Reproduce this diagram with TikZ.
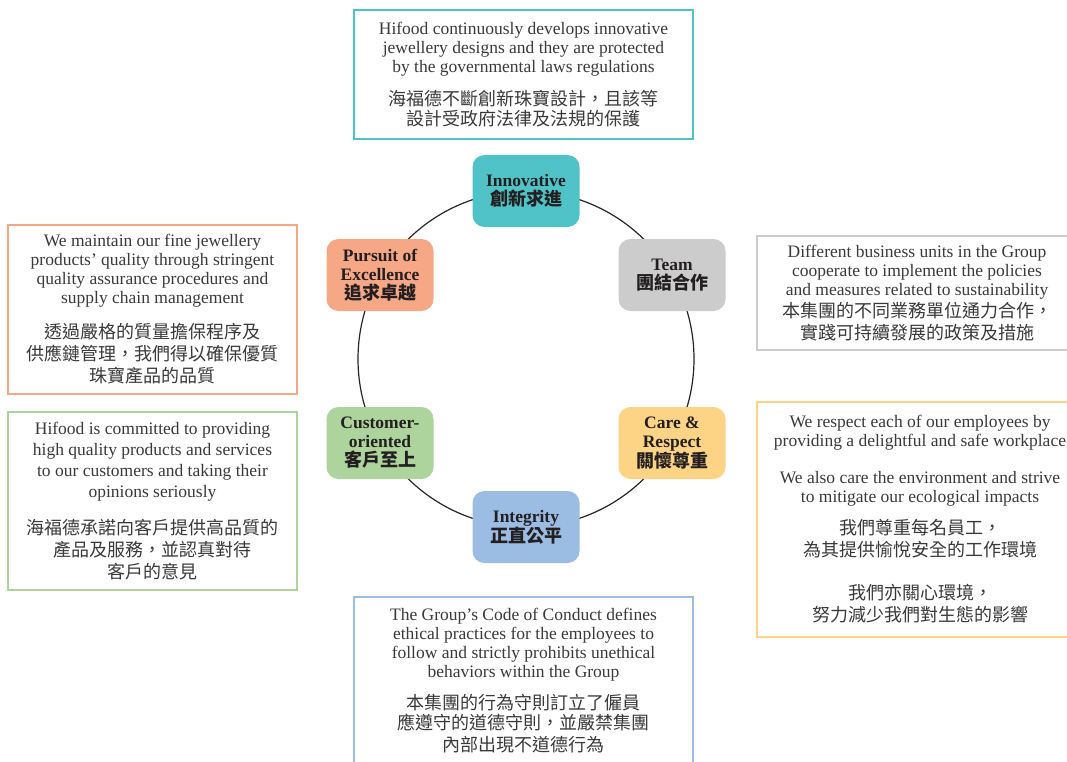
\documentclass[tikz,border=0pt]{standalone}
\usepackage{fontspec}
\setmainfont{Liberation Serif}
\newfontfamily\cjk{Noto Sans CJK TC}
\newcommand\zh[1]{{\cjk\fontsize{18}{19}\selectfont #1}}
\definecolor{cteal}{HTML}{50C3C8}
\definecolor{csalmon}{HTML}{F6A886}
\definecolor{cgray}{HTML}{CCCCCC}
\definecolor{cgreen}{HTML}{AED49E}
\definecolor{cyellow}{HTML}{FDD486}
\definecolor{cblue}{HTML}{9BBCE3}
\definecolor{bodytext}{HTML}{3A3A3A}
\definecolor{labeltext}{HTML}{231F20}
\begin{document}
\begin{tikzpicture}[x=1pt,y=-1pt,
  lbl/.style={rounded corners=12pt, minimum width=107pt, minimum height=72pt, inner sep=0pt,
    align=center, font=\fontsize{17.5}{19}\selectfont\bfseries, text=labeltext},
  txtbox/.style={draw, line width=2.5pt, inner sep=0pt, align=center,
    font=\fontsize{17.5}{19}\selectfont, text=bodytext},
  ring/.style={line width=1.2pt, draw=black!85}
]
\useasboundingbox[fill=white] (0,0) rectangle (1067,762);

\coordinate (c) at (526,359);
\draw[ring] (c) circle[radius=168pt];

\node[lbl, fill=cteal]   (inn)   at (526,191) {Innovative\\\zh{創新求進}};
\node[lbl, fill=cgray]   (team)  at (672,275) {Team\\\zh{團結合作}};
\node[lbl, fill=cyellow] (care)  at (672,443) {Care \&\\Respect\\\zh{關懷尊重}};
\node[lbl, fill=cblue]   (integ) at (526,527) {Integrity\\\zh{正直公平}};
\node[lbl, fill=cgreen]  (cust)  at (380,443) {Customer-\\oriented\\\zh{客戶至上}};
\node[lbl, fill=csalmon] (purs)  at (380,275) {Pursuit of\\Excellence\\\zh{追求卓越}};

\node[txtbox, draw=cteal, minimum width=339pt, minimum height=129pt] (tinn) at (523.5,74.5)
 {Hifood continuously develops innovative\\jewellery designs and they are protected\\by the governmental laws regulations\\[13pt]
  \zh{海福德不斷創新珠寶設計，且該等}\\[1pt]\zh{設計受政府法律及法規的保護}};

\node[txtbox, draw=csalmon, minimum width=289pt, minimum height=169pt] (tpurs) at (152.5,309.5)
 {We maintain our fine jewellery\\products' quality through stringent\\quality assurance procedures and\\supply chain management\\[16pt]
  \zh{透過嚴格的質量擔保程序及}\\[3pt]\zh{供應鏈管理，我們得以確保優質}\\[3pt]\zh{珠寶產品的品質}};

\node[txtbox, draw=cgreen, minimum width=289pt, minimum height=178pt] (tcust) at (152.5,501)
 {Hifood is committed to providing\\[2pt]high quality products and services\\[2pt]to our customers and taking their\\[2pt]opinions seriously\\[17pt]
  \zh{海福德承諾向客戶提供高品質的}\\[3pt]\zh{產品及服務，並認真對待}\\[3pt]\zh{客戶的意見}};

\node[txtbox, draw=cgray, minimum width=320pt, minimum height=114pt] (tteam) at (917,293)
 {Different business units in the Group\\cooperate to implement the policies\\and measures related to sustainability\\[2pt]
  \zh{本集團的不同業務單位通力合作，}\\[3pt]\zh{實踐可持續發展的政策及措施}};

\node[txtbox, draw=cyellow, minimum width=326pt, minimum height=235pt] (tcare) at (920,519.5)
 {We respect each of our employees by\\providing a delightful and safe workplace\\[18pt]
  We also care the environment and strive\\to mitigate our ecological impacts\\[12pt]
  \zh{我們尊重每名員工，}\\[3pt]\zh{為其提供愉悅安全的工作環境}\\[24pt]
  \zh{我們亦關心環境，}\\[3pt]\zh{努力減少我們對生態的影響}};

\node[txtbox, draw=cblue, minimum width=339pt, minimum height=168pt] (tinteg) at (523.5,681)
 {The Group's Code of Conduct defines\\ethical practices for the employees to\\follow and strictly prohibits unethical\\behaviors within the Group\\[13pt]
  \zh{本集團的行為守則訂立了僱員}\\[1pt]\zh{應遵守的道德守則，並嚴禁集團}\\[3pt]\zh{內部出現不道德行為}};
\end{tikzpicture}
\end{document}
